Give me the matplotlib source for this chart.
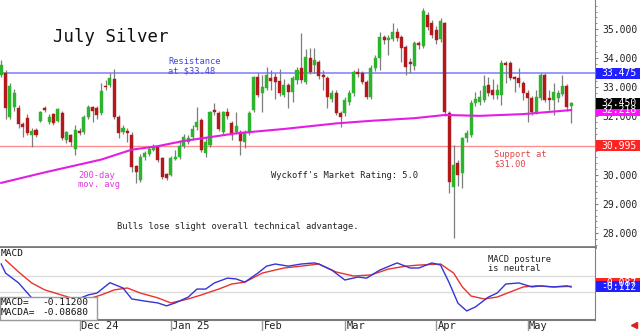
import numpy as np
import pandas as pd
import matplotlib
matplotlib.use('Agg')
import matplotlib.pyplot as plt
import matplotlib.transforms as mtransforms
from matplotlib.ticker import AutoMinorLocator, FormatStrFormatter
from matplotlib.lines import Line2D

plt.rcParams['font.family'] = ['DejaVu Sans Mono', 'DejaVu Sans']

# July silver daily bars, Nov 5 2024 .. May 15 2025
opens = [33.42, 33.50, 31.98, 32.32, 32.29, 31.74, 31.95, 31.36, 31.53, 31.84,
         32.29, 31.81, 32.08, 31.84, 32.12, 31.19, 31.36, 30.88, 31.50, 31.47,
         31.98, 32.32, 32.29, 32.12, 33.04, 33.08, 33.28, 31.98, 31.47, 31.50,
         31.36, 30.30, 29.82, 30.61, 30.71, 30.85, 30.95, 30.57, 30.02, 29.99,
         30.54, 30.61, 30.99, 31.12, 31.29, 31.64, 31.88, 30.74, 31.02, 32.22,
         32.12, 31.47, 32.15, 31.77, 31.47, 31.47, 31.12, 31.43, 32.22, 33.35,
         32.80, 32.98, 33.32, 33.35, 33.22, 32.74, 33.08, 32.84, 33.25, 33.66,
         33.18, 34.00, 33.77, 33.87, 33.42, 33.32, 32.60, 32.80, 32.12, 32.12,
         32.49, 32.80, 33.52, 33.49, 33.18, 32.67, 33.66, 34.00, 34.73, 34.62,
         34.66, 34.90, 34.73, 34.38, 33.87, 33.73, 34.52, 34.42, 35.48, 35.20,
         34.95, 34.66, 35.20, 32.12, 29.58, 30.40, 30.06, 31.26, 31.36, 32.46,
         32.49, 32.56, 33.08, 32.91, 32.74, 32.74, 33.83, 33.83, 33.35, 33.32,
         33.15, 32.80, 32.63, 32.15, 32.63, 33.42, 32.63, 32.56, 32.63, 32.77,
         33.04, 32.36]
highs = [33.94, 33.60, 33.15, 32.95, 32.40, 31.80, 32.10, 31.60, 31.60, 32.20,
         32.35, 32.10, 32.12, 32.30, 32.20, 31.50, 31.40, 31.70, 31.60, 32.05,
         32.40, 32.35, 32.35, 33.15, 33.25, 33.49, 33.63, 32.05, 31.70, 31.60,
         31.45, 30.35, 30.70, 30.80, 30.95, 31.05, 31.00, 30.60, 30.05, 30.65,
         30.85, 31.20, 31.40, 31.35, 31.70, 32.32, 31.95, 31.30, 32.20, 32.46,
         32.18, 32.20, 32.30, 31.85, 32.15, 31.55, 31.55, 32.20, 33.40, 33.49,
         33.42, 33.70, 33.60, 33.50, 33.63, 33.30, 33.15, 33.40, 33.70, 34.86,
         34.30, 34.35, 34.35, 33.95, 33.60, 33.40, 32.90, 32.90, 32.20, 32.65,
         32.90, 33.60, 33.65, 33.55, 33.25, 33.75, 34.10, 34.90, 34.80, 34.80,
         35.20, 35.05, 34.80, 34.45, 34.00, 34.60, 34.60, 35.72, 35.60, 35.30,
         35.10, 35.38, 35.25, 32.20, 31.02, 30.50, 31.30, 31.55, 32.55, 32.85,
         32.90, 33.42, 33.35, 33.30, 33.10, 33.95, 33.90, 33.90, 33.40, 33.66,
         33.20, 32.90, 32.70, 32.91, 33.50, 33.50, 32.90, 33.15, 32.90, 33.42,
         33.10, 32.50]
lows = [33.35, 31.90, 31.90, 32.20, 31.60, 31.29, 31.35, 30.95, 31.30, 31.80,
        32.15, 31.75, 31.70, 31.80, 31.20, 31.10, 31.00, 30.68, 31.35, 31.40,
        31.90, 31.80, 31.90, 32.05, 32.90, 33.00, 31.90, 31.26, 31.40, 31.13,
        30.09, 29.71, 29.75, 30.50, 30.65, 30.80, 30.45, 29.85, 29.82, 29.95,
        30.50, 30.55, 30.90, 31.05, 31.20, 31.55, 30.78, 30.60, 30.95, 32.05,
        31.50, 31.40, 31.90, 31.20, 31.40, 30.68, 30.90, 31.35, 32.15, 32.65,
        32.15, 32.90, 32.90, 32.60, 32.70, 32.65, 32.29, 32.50, 33.10, 33.15,
        33.10, 33.45, 33.50, 33.30, 32.90, 32.29, 32.50, 32.05, 31.64, 32.00,
        32.40, 32.70, 33.35, 33.10, 32.60, 32.60, 33.55, 33.60, 34.50, 34.10,
        34.60, 34.60, 33.87, 33.42, 33.50, 33.60, 34.30, 34.35, 34.95, 34.70,
        34.50, 34.55, 32.00, 29.37, 27.83, 29.60, 29.54, 31.12, 31.30, 32.35,
        32.40, 32.50, 32.70, 32.60, 32.60, 32.39, 33.15, 33.25, 32.84, 33.00,
        32.56, 31.81, 32.05, 32.10, 32.55, 32.50, 32.22, 32.05, 32.50, 32.70,
        32.20, 31.77]
closes = [33.76, 32.29, 33.04, 32.80, 31.74, 31.64, 31.43, 31.50, 31.36, 32.15,
          32.22, 31.98, 31.77, 32.25, 31.26, 31.47, 31.12, 31.53, 31.43, 31.98,
          32.32, 32.19, 32.05, 32.87, 33.00, 33.32, 31.98, 31.43, 31.60, 31.43,
          30.26, 30.09, 30.61, 30.75, 30.88, 30.95, 30.50, 29.92, 29.89, 30.57,
          30.61, 30.99, 31.29, 31.26, 31.57, 31.81, 30.85, 31.12, 32.15, 32.15,
          31.57, 32.15, 32.01, 31.36, 31.67, 31.16, 31.47, 32.12, 33.35, 32.74,
          33.01, 33.42, 33.22, 33.18, 32.80, 33.08, 32.84, 33.32, 33.59, 33.25,
          34.04, 33.52, 33.94, 33.39, 33.35, 32.67, 32.80, 32.12, 31.98, 32.56,
          32.80, 33.52, 33.45, 33.18, 32.67, 33.66, 34.00, 34.73, 34.62, 34.69,
          34.90, 34.69, 34.35, 33.70, 33.80, 34.52, 34.45, 35.62, 35.07, 34.80,
          34.62, 35.27, 32.15, 29.75, 30.33, 29.99, 31.26, 31.43, 32.46, 32.60,
          32.67, 33.04, 32.80, 32.74, 32.91, 33.83, 33.78, 33.32, 33.29, 33.15,
          32.80, 32.63, 32.15, 32.67, 33.42, 32.56, 32.56, 32.84, 32.80, 33.04,
          32.32, 32.45]

# 200-day moving average, read at selected bars
ma_idx = [0, 10, 23, 30, 36, 42, 54, 65, 77, 85, 95, 102, 110, 120, 131]
ma_val = [29.72, 30.08, 30.52, 30.86, 30.98, 31.16, 31.42, 31.57, 31.76, 31.85,
          31.94, 32.05, 32.02, 32.08, 32.218]

# MACD and its average line
macd_idx = [0, 1, 4, 7, 11, 16, 20, 22, 25, 28, 30, 33, 36, 38, 40, 43, 45, 47,
            49, 52, 54, 56, 59, 61, 63, 66, 69, 72, 73, 76, 79, 82, 84, 87, 91,
            94, 96, 99, 101, 103, 105, 107, 109, 112, 114, 116, 119, 122, 124,
            127, 130, 131]
macd_val = [0.75, 0.41, 0.04, -0.52, -0.79, -0.67, -0.41, -0.34, 0.05, -0.15,
            -0.56, -0.64, -0.71, -0.82, -0.71, -0.49, -0.19, -0.19, 0.04, 0.22,
            0.19, 0.07, 0.41, 0.67, 0.75, 0.67, 0.75, 0.79, 0.75, 0.52, 0.15,
            0.26, 0.22, 0.52, 0.79, 0.60, 0.60, 0.79, 0.71, 0.04, -0.72, -1.01,
            -0.86, -0.49, -0.34, 0.0, 0.04, -0.11, -0.07, -0.11, -0.07, -0.112]
sig_idx = [1, 4, 7, 10, 13, 16, 20, 23, 26, 29, 32, 36, 39, 43, 46, 50, 53, 56,
           60, 65, 69, 73, 77, 81, 85, 89, 93, 96, 101, 104, 106, 108, 111, 114,
           117, 120, 123, 127, 131]
sig_val = [0.90, 0.45, 0.04, -0.22, -0.37, -0.52, -0.56, -0.41, -0.22, -0.15,
           -0.34, -0.52, -0.71, -0.56, -0.41, -0.19, 0.0, 0.07, 0.41, 0.60, 0.67,
           0.75, 0.45, 0.30, 0.34, 0.56, 0.67, 0.71, 0.75, 0.41, -0.11, -0.45,
           -0.56, -0.49, -0.30, -0.11, -0.07, -0.11, -0.0868]

resistance = 33.475
support = 30.995
price_ticks = [28, 29, 30, 31, 32, 33, 34, 35]

holidays = ['2024-11-28', '2024-12-25', '2025-01-01', '2025-01-20',
            '2025-02-17', '2025-04-18']
dates = pd.bdate_range('2024-11-05', '2025-05-15')
dates = dates[~dates.isin(pd.to_datetime(holidays))]

GREEN = '#2cb52c'
RED = '#b3191b'
MAGENTA = '#e31ee3'
W, H = 640, 331

opens = np.array(opens)
highs = np.array(highs)
lows = np.array(lows)
closes = np.array(closes)
idx = np.arange(len(closes))

fig = plt.figure(figsize=(W / 100, H / 100), dpi=100)
ax = fig.add_axes([0, 1 - 247 / H, 595 / W, 247 / H])
ax2 = fig.add_axes([0, 1 - 319.5 / H, 595 / W, 71.5 / H], sharex=ax)

# --- price panel ---
ax.axhline(resistance, color='#8f8fff', lw=1.3, zorder=1)
ax.axhline(support, color='#ff8f8f', lw=1.0, zorder=1)

up = closes >= opens
colors = np.where(up, GREEN, RED)
ax.vlines(idx, lows, highs, color='#7d7d7d', lw=0.9, zorder=2)
body_lo = np.minimum(opens, closes)
body_h = np.maximum(np.abs(closes - opens), 0.05)
ax.bar(idx, body_h, bottom=body_lo, width=0.7, color=colors,
       edgecolor=colors, lw=0.3, zorder=3)
ax.plot(ma_idx, ma_val, color=MAGENTA, lw=1.5, zorder=4)

ax.set_xlim(-0.28, 136.5)
ax.set_ylim(27.52, 35.995)
ax.yaxis.tick_right()
ax.set_yticks(price_ticks)
ax.yaxis.set_major_formatter(FormatStrFormatter('%.3f'))
ax.yaxis.set_minor_locator(AutoMinorLocator(5))
ax.tick_params(axis='y', which='major', labelsize=7, length=2, pad=3.5,
               color='#808080', labelcolor='#222222')
ax.tick_params(axis='y', which='minor', length=1.5, color='#808080')
ax.tick_params(axis='x', which='both', bottom=False, labelbottom=False)
for s in ['left', 'top']:
    ax.spines[s].set_visible(False)
ax.spines['right'].set_color('#808080')
ax.spines['bottom'].set_color('#7a7a7a')
ax.spines['bottom'].set_linewidth(2)

# --- MACD panel ---
ax2.axhline(0.3, color='#dcdcdc', lw=1, zorder=1)
ax2.axhline(-0.3, color='#dcdcdc', lw=1, zorder=1)
ax2.plot(sig_idx, sig_val, color='#e8332e', lw=1.0, zorder=2)
ax2.plot(macd_idx, macd_val, color='#3434d8', lw=1.0, zorder=3)
ax2.set_ylim(-1.331, 1.35)
ax2.set_yticks([])
ax2.yaxis.set_minor_locator(AutoMinorLocator(4))
ax2.yaxis.tick_right()
ax2.tick_params(axis='y', which='minor', length=1.5, color='#808080')
for s in ['left', 'top']:
    ax2.spines[s].set_visible(False)
ax2.spines['right'].set_color('#808080')
ax2.spines['bottom'].set_color('#7a7a7a')
ax2.spines['bottom'].set_linewidth(1.5)

# month ticks: first trading day of each new month
month_pos = [i for i in range(1, len(dates)) if dates[i].month != dates[i - 1].month]
month_lab = []
for k, i in enumerate(month_pos):
    d = dates[i]
    lab = d.strftime('%b')
    if k == 0 or d.month == 1:
        lab += d.strftime(' %y')
    month_lab.append(lab)
ax2.set_xticks(month_pos)
ax2.set_xticklabels([''] * len(month_pos))
ax2.tick_params(axis='x', length=9, width=1, color='#9a9a9a', direction='out')
tr_x = mtransforms.blended_transform_factory(ax2.transData, fig.transFigure)
for i, lab in zip(month_pos, month_lab):
    ax2.text(i + 0.35, 1 - 326 / H, lab, transform=tr_x, fontsize=7.5,
             va='center', ha='left', color='#222222', clip_on=False)


def value_tag(axis, value, text, face, px_per_unit, dy=0):
    tr = mtransforms.blended_transform_factory(fig.transFigure, axis.transData)
    tr = tr + mtransforms.ScaledTranslation(0, dy / 100, fig.dpi_scale_trans)
    h = 11 / px_per_unit
    axis.add_patch(plt.Rectangle((596 / W, value - h / 2), 44 / W, h,
                                 transform=tr, facecolor=face, edgecolor='none',
                                 clip_on=False, zorder=6))
    axis.text(601 / W, value, text, transform=tr, color='white', fontsize=7,
              va='center', ha='left', clip_on=False, zorder=7)


value_tag(ax, resistance, f'{resistance:.3f}', '#1f1fff', 29.14)
value_tag(ax, ma_val[-1], f'{ma_val[-1]:.3f}', '#ff10ff', 29.14)
value_tag(ax, closes[-1], f'{closes[-1]:.3f}', '#000000', 29.14)
value_tag(ax, support, f'{support:.3f}', '#ff2424', 29.14)
value_tag(ax2, sig_val[-1], f'{sig_val[-1]:.3f}', '#ff2424', 26.67, dy=3)
value_tag(ax2, macd_val[-1], f'{macd_val[-1]:.3f}', '#1f1fff', 26.67)
ax.set_ylim(27.52, 35.995)
ax2.set_ylim(-1.331, 1.35)

# MACD readout box
ax2.add_patch(plt.Rectangle((0, 1 - 320 / H), 97 / W, 23 / H,
                            transform=fig.transFigure, facecolor='white',
                            edgecolor='#9a9a9a', lw=1, clip_on=False, zorder=8))
box_txt = [('MACD=', 302.5, macd_val[-1]), ('MACDA=', 312.5, sig_val[-1])]
for name, y, v in box_txt:
    fig.text(0.5 / W, 1 - y / H, name, fontsize=6.8, va='center', color='#111111', zorder=9)
    fig.text(42 / W, 1 - y / H, f'{v:.5f}', fontsize=6.8, va='center', color='#111111', zorder=9)
fig.text(0.5 / W, 1 - 253.5 / H, 'MACD', fontsize=6.8, va='center', color='#111111')


# chart notes
def note(x, y, s, color='#222222', size=6.3):
    fig.text(x / W, 1 - y / H, s, fontsize=size, color=color, va='top',
             ha='left', linespacing=1.05)


fig.text(53 / W, 1 - 37.5 / H, 'July Silver', fontsize=12.5, va='center',
         ha='left', color='#111111')
note(168, 57, 'Resistance\nat $33.48', color='#4646d6')
note(78, 171, '200-day\nmov. avg', color='#e03ce0')
note(494, 150, 'Support at\n$31.00', color='#e04444')
note(271, 171, "Wyckoff's Market Rating: 5.0")
note(117, 222, 'Bulls lose slight overall technical advantage.')
note(488, 255, 'MACD posture\nis neutral')

fig.add_artist(Line2D([634 / W], [1 - 325 / H], marker='<', color='#e02020',
                      ms=4, transform=fig.transFigure))

fig.savefig('out.png', dpi=100)
